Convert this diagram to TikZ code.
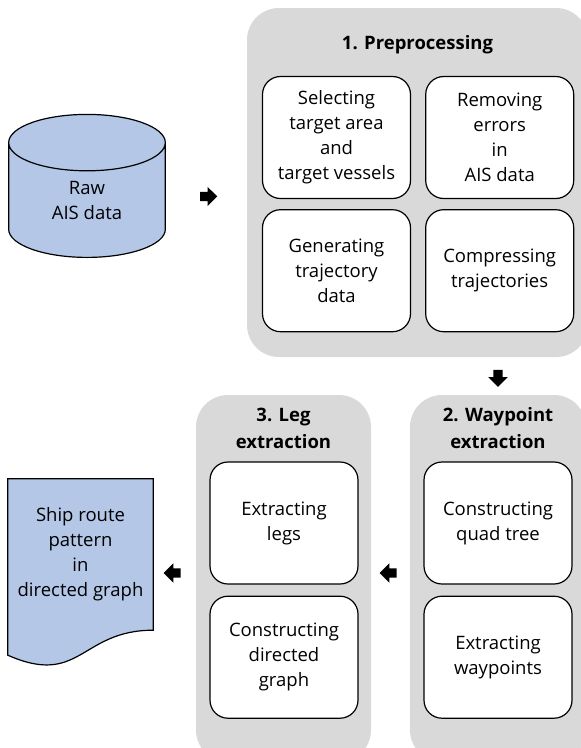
\documentclass[tikz,border=0pt]{standalone}
\usepackage{fontspec}
\setmainfont{Open Sans}
\usetikzlibrary{positioning,shapes.geometric,shapes.arrows,calc,backgrounds}
\definecolor{rawblue}{HTML}{B4C7E7}
\definecolor{panelgray}{HTML}{D9D9D9}

\begin{document}
\begin{tikzpicture}[
    x=1pt, y=-1pt,
    every node/.style={font=\fontsize{18.5pt}{25pt}\selectfont},
    panel/.style={fill=panelgray, draw=none, rounded corners=32pt, inner sep=0pt},
    stepbox/.style={draw, line width=1.2pt, fill=white, rounded corners=18pt, minimum width=148pt, minimum height=122pt, align=center, inner sep=2pt},
    ttl/.style={font=\fontsize{18.5pt}{27pt}\selectfont\bfseries, align=center},
    db/.style={cylinder, shape border rotate=90, aspect=0.36, draw, line width=1.2pt, fill=rawblue, text width=150pt, align=center, minimum height=143pt},
    docshape/.style={draw, line width=1.2pt, fill=rawblue},
    blk/.style={single arrow, fill=black, minimum height=17pt, inner sep=4.5pt, single arrow head extend=5pt},
]
\useasboundingbox (0,0) rectangle (581,748);

% Stage panels
\node[panel, minimum width=341pt, minimum height=349pt] (pre) at (417.5,182.5) {};
\node[panel, minimum width=176pt, minimum height=367pt] (wp) at (498,578.5) {};
\node[panel, minimum width=175pt, minimum height=367pt] (leg) at (283.5,578.5) {};

\node[ttl] (preT) at ([yshift=-37pt]pre.north) {1. Preprocessing};
\node[ttl] (wpT) at ([yshift=-33.5pt]wp.north) {2. Waypoint\\extraction};
\node[ttl] (legT) at ([yshift=-33.5pt]leg.north) {3. Leg\\extraction};

% Preprocessing steps
\node[stepbox] (sel) at (336.5,137.5) {Selecting\\target area\\and\\target vessels};
\node[stepbox, right=14pt of sel] (err) {Removing\\errors\\in\\AIS data};
\node[stepbox, below=10pt of sel] (gen) {Generating\\trajectory\\data};
\node[stepbox, below=10pt of err] (cmp) {Compressing\\trajectories};

% Waypoint steps
\node[stepbox] (quad) at (498,523) {Constructing\\quad tree};
\node[stepbox, below=11pt of quad] (wpts) {Extracting\\waypoints};

% Leg steps
\node[stepbox] (legs) at (284,523) {Extracting\\legs};
\node[stepbox, below=11pt of legs] (dgr) {Constructing\\directed\\graph};

% Input and output
\node[db, anchor=south] (raw) at (87,258) {\phantom{Raw}\\\phantom{AIS data}};
\node[align=center] (rawT) at ([yshift=58pt]raw.south) {Raw\\AIS data};
\node[minimum width=145pt, minimum height=151pt, align=center] (doc) at (80.5,554.5) {Ship route\\pattern\\in\\directed graph};
\begin{scope}[on background layer]
\draw[docshape] (doc.north west) -- (doc.north east) -- (doc.south east)
  .. controls (doc.south) and ($(doc.south)+(0,57)$) .. ($(doc.south west)+(0,25)$) -- cycle;
\end{scope}

% Block arrows
\coordinate (midrow) at (0,573);
\path (raw) -- node[blk] (a1) {} (pre);
\path (pre.south -| wp.north) -- node[blk, shape border rotate=270] (a2) {} (wp.north);
\path (wp.west |- midrow) -- node[blk, shape border rotate=180] (a3) {} (leg.east |- midrow);
\path (leg.west |- midrow) -- node[blk, shape border rotate=180] (a4) {} (doc.east |- midrow);

\end{tikzpicture}
\end{document}
